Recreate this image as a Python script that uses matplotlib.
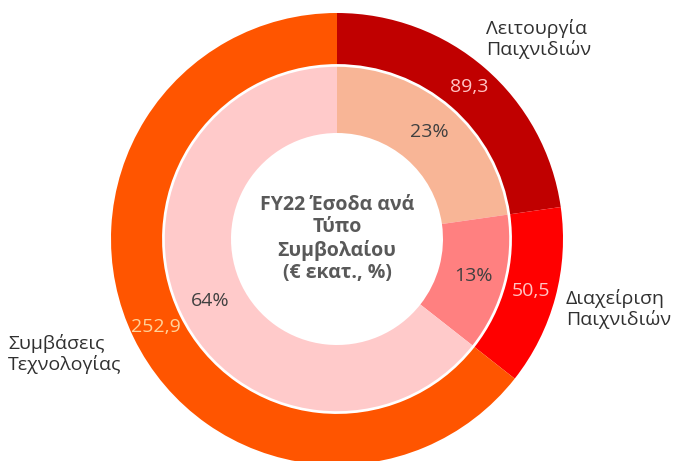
import matplotlib
matplotlib.use('Agg')
import matplotlib.pyplot as plt

plt.rcParams['font.family'] = ['Open Sans', 'DejaVu Sans']

categories = ['Λειτουργία\nΠαιχνιδιών', 'Διαχείριση\nΠαιχνιδιών', 'Συμβάσεις\nΤεχνολογίας']
revenue = [89.3, 50.5, 252.9]
share_labels = ['23%', '13%', '64%']

outer_colors = ['#C00000', '#FF0000', '#FF5500']
inner_colors = ['#F8B596', '#FF8080', '#FFCACA']
value_colors = ['#FFC4C4', '#FFC4C4', '#FFD29A']

W, H = 676, 461
cx, cy, R = 337, 239, 226

fig = plt.figure(figsize=(W / 100, H / 100), dpi=100)
ax = fig.add_axes([0, 0, 1, 1])

value_labels = [f'{v:.1f}'.replace('.', ',') for v in revenue]

wedges, vtexts = ax.pie(revenue, radius=1.0, colors=outer_colors, startangle=90,
                        counterclock=False, labels=value_labels, labeldistance=0.89,
                        wedgeprops=dict(width=0.226, edgecolor='none'),
                        textprops=dict(fontsize=14))
for t, c in zip(vtexts, value_colors):
    t.set_color(c)
    t.set_ha('center')
    t.set_va('center')

iw, itexts = ax.pie(revenue, radius=0.762, colors=inner_colors, startangle=90,
                    counterclock=False, labels=share_labels, labeldistance=0.82,
                    wedgeprops=dict(width=0.293, edgecolor='none'),
                    textprops=dict(fontsize=14, color='#404040'))
for t in itexts:
    t.set_ha('center')
    t.set_va('center')

ax.text(0, 0.0, 'FY22 Έσοδα ανά\nΤύπο\nΣυμβολαίου\n(€ εκατ., %)', ha='center', va='center',
        fontsize=14, fontweight='bold', color='#595959', linespacing=1.15)

# category names outside the ring
cat_pos = [(486, 39), (566, 309), (8, 354)]
for name, (px, py) in zip(categories, cat_pos):
    ax.text((px - cx) / R, (cy - py) / R, name, ha='left', va='center',
            fontsize=14, color='#303030', linespacing=1.1)

ax.set_xlim(-cx / R, (W - cx) / R)
ax.set_ylim(-(H - cy) / R, cy / R)
ax.set_aspect('auto')
ax.axis('off')

fig.savefig('out.png', dpi=100)
